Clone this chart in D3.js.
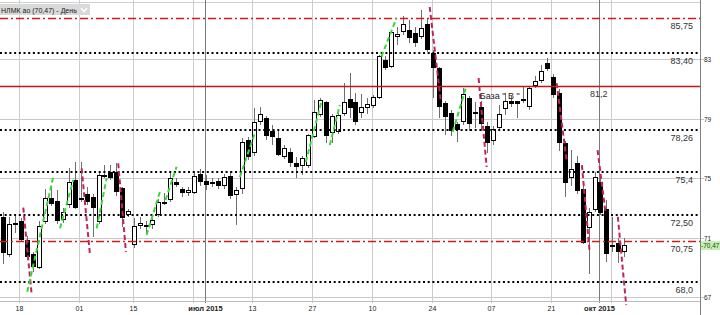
<!DOCTYPE html>
<html>
<head>
<meta charset="utf-8">
<script src="https://cdn.jsdelivr.net/npm/d3@7"></script>
<style>
  body { margin: 0; background: #ffffff; }
  svg { display: block; font-family: "Liberation Sans", Arial, sans-serif; }
</style>
</head>
<body>
<script>
const width = 720;
const height = 315;

//Trading days shown on the chart
const dates = [
  "2015-05-13","2015-05-14","2015-05-15","2015-05-18","2015-05-19","2015-05-20","2015-05-21","2015-05-22",
  "2015-05-25","2015-05-26","2015-05-27","2015-05-28","2015-05-29",
  "2015-06-01","2015-06-02","2015-06-03","2015-06-04","2015-06-05","2015-06-08","2015-06-09","2015-06-10",
  "2015-06-11","2015-06-15","2015-06-16","2015-06-17","2015-06-18","2015-06-19","2015-06-22","2015-06-23",
  "2015-06-24","2015-06-25","2015-06-26","2015-06-29","2015-06-30",
  "2015-07-01","2015-07-02","2015-07-03","2015-07-06","2015-07-07","2015-07-08","2015-07-09","2015-07-10",
  "2015-07-13","2015-07-14","2015-07-15","2015-07-16","2015-07-17","2015-07-20","2015-07-21","2015-07-22",
  "2015-07-23","2015-07-24","2015-07-27","2015-07-28","2015-07-29","2015-07-30","2015-07-31",
  "2015-08-03","2015-08-04","2015-08-05","2015-08-06","2015-08-07","2015-08-10","2015-08-11","2015-08-12",
  "2015-08-13","2015-08-14","2015-08-17","2015-08-18","2015-08-19","2015-08-20","2015-08-21","2015-08-24",
  "2015-08-25","2015-08-26","2015-08-27","2015-08-28","2015-08-31",
  "2015-09-01","2015-09-02","2015-09-03","2015-09-04","2015-09-07","2015-09-08","2015-09-09","2015-09-10",
  "2015-09-11","2015-09-14","2015-09-15","2015-09-16","2015-09-17","2015-09-18","2015-09-21","2015-09-22",
  "2015-09-23","2015-09-24","2015-09-25","2015-09-28","2015-09-29","2015-09-30",
  "2015-10-01","2015-10-02","2015-10-05","2015-10-06","2015-10-07"
];

//OHLC values
const open = [
  72.40,69.82,71.90,72.10,70.83,69.89,68.97,72.06,73.68,73.46,72.18,73.19,74.87,73.62,73.91,73.75,72.06,75.19,75.43,75.43,
  74.31,72.52,70.50,71.77,71.84,71.84,72.52,73.35,73.53,74.77,74.25,73.98,74.02,75.28,74.80,74.70,74.80,74.49,75.14,73.86,
  74.25,77.56,76.71,78.80,79.03,78.17,77.68,76.44,76.78,76.00,75.81,75.83,77.79,79.25,80.10,78.02,78.12,79.30,80.31,80.10,
  79.40,79.74,79.86,80.37,82.95,82.50,84.52,84.86,84.97,84.79,84.52,85.38,83.40,82.39,80.04,79.36,78.64,78.80,80.37,79.40,
  79.77,78.51,77.52,78.35,79.63,80.19,80.19,80.30,79.81,81.20,81.54,82.77,81.83,80.75,77.34,74.99,76.00,74.25,71.62,72.85,
  74.76,72.90,70.49,70.65,70.04
];
const high = [
  72.75,72.40,72.50,72.30,71.10,70.00,72.10,74.30,74.50,74.20,73.00,75.66,76.10,76.10,74.40,73.90,75.40,75.88,75.90,76.00,
  74.40,72.90,72.30,72.40,72.10,72.40,73.60,74.00,75.40,75.00,74.40,74.40,75.50,75.60,75.20,75.00,75.00,75.30,75.50,74.40,
  77.70,77.80,79.70,79.77,79.20,78.60,78.29,77.20,77.00,76.44,76.50,78.00,80.26,80.40,80.20,79.30,79.40,81.38,82.06,80.70,
  80.66,80.40,80.60,83.29,83.20,85.00,85.20,85.92,85.65,85.20,86.30,85.76,83.63,82.50,80.20,79.60,78.80,81.05,80.50,80.10,
  80.20,78.80,78.50,79.90,80.71,80.50,80.20,81.11,81.20,81.90,82.60,83.07,82.00,81.00,77.50,76.89,76.50,74.50,72.97,75.43,
  75.00,73.53,72.40,70.95,70.95
];
const low = [
  69.25,69.70,71.30,70.70,69.50,68.70,68.90,71.90,73.10,71.90,72.00,73.00,72.90,73.40,73.20,71.06,71.90,75.00,74.90,73.80,
  71.73,72.40,70.27,71.60,71.30,71.60,72.40,73.20,73.40,74.40,73.70,73.80,73.90,74.50,74.20,74.40,74.30,74.30,73.60,71.84,
  73.90,76.20,76.50,78.60,77.60,77.20,76.50,76.30,75.73,75.00,75.20,75.70,77.70,79.10,77.34,77.36,78.00,79.20,79.03,78.58,
  79.03,79.30,79.70,80.30,82.30,82.40,83.96,84.64,84.08,83.85,84.40,83.50,80.37,79.03,77.90,77.84,77.45,78.60,78.20,78.40,
  78.20,76.67,77.20,78.20,79.25,79.80,79.03,80.04,79.60,81.10,81.40,82.20,80.37,76.80,73.71,74.47,73.90,70.60,68.54,72.70,
  72.50,69.37,70.00,69.26,69.71
];
const close = [
  69.95,71.89,72.00,70.83,69.71,69.03,71.77,73.68,73.24,72.13,72.74,74.76,73.00,73.66,73.41,73.00,75.21,75.23,75.03,74.04,
  72.29,72.78,71.77,72.00,71.86,72.18,73.41,73.38,74.99,74.54,74.02,74.20,75.14,74.71,74.54,74.72,74.49,75.10,73.82,74.20,
  77.45,76.44,78.80,79.32,77.84,77.75,76.56,77.00,76.04,75.73,76.33,77.90,79.47,80.26,77.84,79.18,79.25,80.13,79.70,78.80,
  79.77,79.97,80.44,83.22,82.43,84.82,84.68,85.38,84.41,84.08,85.09,83.63,82.39,79.77,79.14,78.19,78.25,80.64,78.64,79.45,
  78.64,77.34,78.31,79.32,80.21,79.97,79.97,80.31,81.05,81.54,82.23,82.33,80.60,77.34,74.69,75.61,74.15,70.65,72.74,75.05,
  72.63,69.87,70.51,70.04,70.47
];

//Axis ticks
const yTicks = [83, 79, 75, 71, 67];
const gridDates = ["2015-05-18","2015-06-01","2015-06-15","2015-06-29","2015-07-13","2015-07-27",
                   "2015-08-10","2015-08-24","2015-09-07","2015-09-21","2015-10-05"];
const monthDates = ["2015-07-01","2015-10-01"];
const xTickDates = ["2015-05-18","2015-06-01","2015-06-15","2015-07-01","2015-07-13","2015-07-27",
                    "2015-08-10","2015-08-24","2015-09-07","2015-09-21","2015-10-01"];
const xTickLabels = ["18","01","15","июл 2015","13","27","10","24","07","21","окт 2015"];

//Drawn levels
const dottedLevels = [83.40, 78.26, 75.4, 72.50, 68.0];
const dottedLabels = ["83,40", "78,26", "75,4", "72,50", "68,0"];
const dashDotLevels = [85.75, 70.75];
const dashDotLabels = ["85,75", "70,75"];
const solidLevel = 81.2;
const solidLabel = "81,2";
const lastPrice = 70.47;

//Hand drawn dashed strokes: [day index from, price from, day index to, price to]
const redStrokes = [
  [3.41, 73.01, 4.82, 67.14], [13.18, 75.66, 14.57, 69.86], [19.30, 76.00, 20.59, 70.04],
  [71.42, 86.52, 73.26, 80.26], [79.60, 81.74, 80.95, 75.75], [92.66, 81.40, 94.33, 76.22],
  [96.89, 75.88, 98.18, 70.04], [99.51, 76.89, 100.85, 72.65], [102.90, 72.40, 104.30, 66.45]
];
const greenStrokes = [
  [4.08, 67.35, 8.43, 75.10], [9.55, 71.62, 11.77, 74.87], [15.69, 71.62, 17.36, 74.99],
  [24.05, 71.17, 26.27, 74.08], [27.22, 73.53, 29.06, 75.77], [39.65, 75.07, 42.16, 78.04],
  [50.69, 76.09, 53.36, 80.26], [54.70, 77.23, 56.37, 79.92], [63.34, 83.18, 65.85, 85.76],
  [75.28, 78.12, 77.44, 81.05]
];
const baseNote = { day: 79.8, price: 80.36, text: "База \" В \"" };

const plotRight = 700;
const plotBottom = 301;

const x = d3.scaleLinear().domain([0, dates.length - 1]).range([2.9, 624.4]);
const y = d3.scaleLinear().domain([67, 83]).range([297, 59.3]);
const dayX = d => x(dates.indexOf(d));
const gridX = d => Math.round(dayX(d) - 1.5) + 0.5;
const crispY = v => Math.round(y(v)) + 0.5;

const svg = d3.select("body").append("svg")
    .attr("width", width)
    .attr("height", height);

svg.append("rect")
    .attr("width", width)
    .attr("height", height)
    .attr("fill", "#ffffff");

//GRID
svg.append("line")
    .attr("x1", 0).attr("x2", plotRight)
    .attr("y1", 2.5).attr("y2", 2.5)
    .attr("stroke", "#cfcfcf");

svg.selectAll(".hgrid").data(yTicks).enter().append("line")
    .attr("class", "hgrid")
    .attr("x1", 0).attr("x2", plotRight + 4)
    .attr("y1", d => crispY(d)).attr("y2", d => crispY(d))
    .attr("stroke", "#c8c8c8");

svg.selectAll(".vgrid").data(gridDates).enter().append("line")
    .attr("class", "vgrid")
    .attr("x1", d => gridX(d)).attr("x2", d => gridX(d))
    .attr("y1", 0).attr("y2", plotBottom + 2)
    .attr("stroke", "#cccccc");

svg.selectAll(".mgrid").data(monthDates).enter().append("line")
    .attr("class", "mgrid")
    .attr("x1", d => gridX(d)).attr("x2", d => gridX(d))
    .attr("y1", 0).attr("y2", plotBottom + 2)
    .attr("stroke", "#7a7a7a");

svg.append("line")
    .attr("x1", 0).attr("x2", plotRight)
    .attr("y1", plotBottom + 0.5).attr("y2", plotBottom + 0.5)
    .attr("stroke", "#bdbdbd");

svg.append("line")
    .attr("x1", plotRight + 0.5).attr("x2", plotRight + 0.5)
    .attr("y1", 0).attr("y2", height)
    .attr("stroke", "#808080");

//CANDLES
const candles = svg.append("g").attr("class", "candles");
dates.forEach((d, i) => {
    const cx = Math.round(x(i));
    const o = open[i], c = close[i];
    candles.append("line")
        .attr("x1", cx + 0.5).attr("x2", cx + 0.5)
        .attr("y1", Math.round(y(high[i]))).attr("y2", Math.round(y(low[i])))
        .attr("stroke", "#6e6e6e");
    const top = Math.round(y(Math.max(o, c)));
    const bot = Math.round(y(Math.min(o, c)));
    if (bot - top < 2) {
        candles.append("rect")
            .attr("x", cx - 2).attr("width", 5)
            .attr("y", top).attr("height", 2)
            .attr("fill", "#000000");
    } else if (c < o) {
        candles.append("rect")
            .attr("x", cx - 2).attr("width", 5)
            .attr("y", top).attr("height", bot - top)
            .attr("fill", "#000000");
    } else {
        candles.append("rect")
            .attr("x", cx - 1.5).attr("width", 4)
            .attr("y", top + 0.5).attr("height", bot - top - 1)
            .attr("fill", "#ffffff")
            .attr("stroke", "#000000");
    }
});

//LEVELS
svg.selectAll(".dotted").data(dottedLevels).enter().append("line")
    .attr("class", "dotted")
    .attr("x1", 0).attr("x2", plotRight)
    .attr("y1", d => Math.round(y(d))).attr("y2", d => Math.round(y(d)))
    .attr("stroke", "#000000")
    .attr("stroke-width", 2)
    .attr("stroke-dasharray", "2,2.7");

svg.selectAll(".dashdot").data(dashDotLevels).enter().append("line")
    .attr("class", "dashdot")
    .attr("x1", 0).attr("x2", plotRight)
    .attr("y1", d => crispY(d)).attr("y2", d => crispY(d))
    .attr("stroke", "#d21a1a")
    .attr("stroke-width", 1.6)
    .attr("stroke-dasharray", "8,3,2,3");

svg.append("line")
    .attr("x1", 0).attr("x2", plotRight)
    .attr("y1", crispY(solidLevel)).attr("y2", crispY(solidLevel))
    .attr("stroke", "#c41414")
    .attr("stroke-width", 1.4);

//Hand drawn strokes
svg.selectAll(".redStroke").data(redStrokes).enter().append("line")
    .attr("class", "redStroke")
    .attr("x1", d => x(d[0])).attr("y1", d => y(d[1]))
    .attr("x2", d => x(d[2])).attr("y2", d => y(d[3]))
    .attr("stroke", "#c0245a")
    .attr("stroke-width", 2)
    .attr("stroke-dasharray", "5,3");

svg.selectAll(".greenStroke").data(greenStrokes).enter().append("line")
    .attr("class", "greenStroke")
    .attr("x1", d => x(d[0])).attr("y1", d => y(d[1]))
    .attr("x2", d => x(d[2])).attr("y2", d => y(d[3]))
    .attr("stroke", "#3ad83a")
    .attr("stroke-width", 2)
    .attr("stroke-dasharray", "5,3");

//LEVEL LABELS
const levelText = (v, t) => svg.append("text")
    .attr("x", 693)
    .attr("y", Math.round(y(v)) + 10.5)
    .attr("text-anchor", "end")
    .style("font-size", "9px")
    .style("fill", "#333333")
    .text(t);
dottedLevels.forEach((v, i) => levelText(v, dottedLabels[i]));
dashDotLevels.forEach((v, i) => levelText(v, dashDotLabels[i]));

svg.append("text")
    .attr("x", 590)
    .attr("y", Math.round(y(solidLevel)) + 10.5)
    .style("font-size", "9px")
    .style("fill", "#333333")
    .text(solidLabel);

svg.append("text")
    .attr("x", x(baseNote.day))
    .attr("y", y(baseNote.price))
    .style("font-size", "9px")
    .style("fill", "#222222")
    .text(baseNote.text);

//RIGHT AXIS
svg.selectAll(".ylab").data(yTicks).enter().append("text")
    .attr("class", "ylab")
    .attr("x", plotRight + 4)
    .attr("y", d => Math.round(y(d)) + 2.5)
    .style("font-size", "6.5px")
    .style("fill", "#222222")
    .text(d => d);

svg.append("rect")
    .attr("x", plotRight + 1)
    .attr("y", Math.round(y(lastPrice)) - 4)
    .attr("width", width - plotRight - 1)
    .attr("height", 9)
    .attr("fill", "#c4f2ae");

svg.append("text")
    .attr("x", plotRight + 1)
    .attr("y", Math.round(y(lastPrice)) + 3)
    .style("font-size", "6.5px")
    .style("fill", "#333333")
    .text("-" + d3.format(".2f")(lastPrice).replace(".", ","));

//BOTTOM AXIS
svg.selectAll(".xlab").data(xTickDates).enter().append("text")
    .attr("class", "xlab")
    .attr("x", d => gridX(d))
    .attr("y", 311)
    .attr("text-anchor", "middle")
    .style("font-size", (d, i) => xTickLabels[i].length > 2 ? "7.5px" : "7px")
    .style("font-weight", (d, i) => xTickLabels[i].length > 2 ? "bold" : "normal")
    .style("fill", "#222222")
    .text((d, i) => xTickLabels[i]);

//TITLE
svg.append("rect")
    .attr("x", 0).attr("y", 4)
    .attr("width", 90).attr("height", 11)
    .attr("fill", "#d9d9d9");

svg.append("text")
    .attr("x", 1)
    .attr("y", 12.5)
    .style("font-size", "7px")
    .style("fill", "#1a1a1a")
    .text("НЛМК ао (" + d3.format(".2f")(lastPrice).replace(".", ",") + ") - День");

svg.append("path")
    .attr("d", "M81,8 L84,11.5 L87,8")
    .attr("fill", "none")
    .attr("stroke", "#ffffff")
    .attr("stroke-width", 1.5);
</script>
</body>
</html>
